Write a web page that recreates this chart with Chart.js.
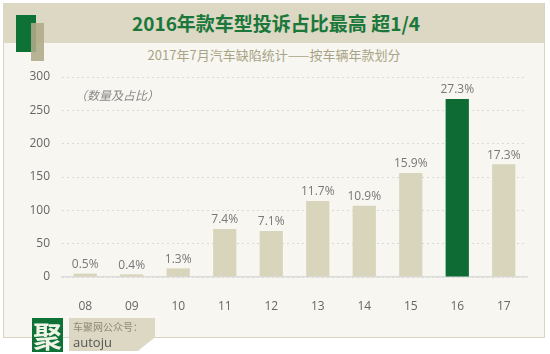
<!DOCTYPE html>
<html>
<head>
<meta charset="utf-8">
<script src="https://cdn.jsdelivr.net/npm/chart.js@4/dist/chart.umd.min.js"></script>
<style>
  body { margin: 0; background: #fff; font-family: "Open Sans", "Noto Sans CJK SC", sans-serif; }
  #wrap { position: relative; width: 550px; height: 354px; overflow: hidden; }
  #frame { position: absolute; left: 3px; top: 3px; width: 540px; height: 333px; background: #f7f6f1; border: 1.5px solid #d8d4bf; }
  #band { position: absolute; left: 3px; top: 3px; width: 541px; height: 40px; background: #dcd8c3; }
  #green { position: absolute; left: 16px; top: 15px; width: 20px; height: 37px; background: #0e7236; }
  #tan { position: absolute; left: 31px; top: 23px; width: 13px; height: 38px; background: rgba(176,170,136,0.88); }
  #title { position: absolute; left: 0; width: 552px; top: 9px; text-align: center; font: bold 19px "Noto Sans CJK SC", sans-serif; color: #1b773a; }
  #sub { position: absolute; left: 0; width: 548px; top: 45px; text-align: center; font: 13px "Noto Sans CJK SC", sans-serif; color: #a9a386; }
  #unit { position: absolute; left: 75px; top: 86px; font: italic 12px "Noto Sans CJK SC", sans-serif; color: #888; }
  #c { position: absolute; left: 0; top: 0; }
  #logo { position: absolute; left: 32px; top: 318px; width: 31px; height: 34px; background: #0e7236; color: #eef3e6; font: bold 29px "Noto Sans CJK SC", sans-serif; line-height: 34px; text-align: center; }
  #tag { position: absolute; left: 69px; top: 318px; width: 86px; height: 33px; background: #dcd8c3; clip-path: polygon(0 0, 100% 0, 100% 58%, 80% 100%, 0 100%); }
  #tag1 { position: absolute; left: 73px; top: 319px; font: 10px "Noto Sans CJK SC", sans-serif; color: #8d8a78; }
  #tag2 { position: absolute; left: 73px; top: 333px; font: 13px "Open Sans", sans-serif; color: #555; }
</style>
</head>
<body>
<div id="wrap">
  <div id="frame"></div>
  <div id="band"></div>
  <div id="green"></div>
  <div id="tan"></div>
  <div id="title">2016年款车型投诉占比最高 超1/4</div>
  <div id="sub">2017年7月汽车缺陷统计——按车辆年款划分</div>
  <canvas id="c" width="550" height="354"></canvas>
  <div id="unit">（数量及占比）</div>
  <div id="logo">聚</div>
  <div id="tag"></div>
  <div id="tag1">车聚网公众号：</div>
  <div id="tag2">autoju</div>
</div>
<script>
const years = ["08", "09", "10", "11", "12", "13", "14", "15", "16", "17"];
const counts = [5, 4, 13, 72, 69, 114, 107, 156, 267, 169];
const shares = ["0.5%", "0.4%", "1.3%", "7.4%", "7.1%", "11.7%", "10.9%", "15.9%", "27.3%", "17.3%"];
const yTicks = [0, 50, 100, 150, 200, 250, 300];
const highlight = "16";

const barColors = years.map(y => y === highlight ? "#0d6b33" : "#d9d5bd");

const shareLabels = {
  id: "shareLabels",
  afterDatasetsDraw(chart) {
    const ctx = chart.ctx;
    const meta = chart.getDatasetMeta(0);
    ctx.save();
    ctx.font = "12px 'Open Sans', sans-serif";
    ctx.fillStyle = "#777";
    ctx.textAlign = "center";
    ctx.textBaseline = "bottom";
    meta.data.forEach((bar, i) => {
      const p = bar.getProps(["x", "y"], true);
      ctx.fillText(shares[i], p.x, p.y - 3);
    });
    ctx.restore();
  }
};

new Chart(document.getElementById("c"), {
  type: "bar",
  data: {
    labels: years,
    datasets: [{ data: counts, backgroundColor: barColors, barPercentage: 0.5, categoryPercentage: 1 }]
  },
  options: {
    responsive: false,
    animation: false,
    devicePixelRatio: 1,
    layout: { padding: { top: 77, right: 23, bottom: 0, left: 0 } },
    plugins: { legend: { display: false }, tooltip: { enabled: false } },
    scales: {
      x: {
        grid: { display: false },
        border: { display: true, color: "#dcdcdc", width: 1.5 },
        ticks: { color: "#666", font: { size: 12, family: "'Open Sans', sans-serif" }, padding: 14 },
        afterFit: s => { s.height = 77; }
      },
      y: {
        min: 0,
        max: 300,
        afterBuildTicks: s => { s.ticks = yTicks.map(v => ({ value: v })); },
        grid: { color: "#d8d8d8", drawTicks: false },
        border: { display: false, dash: [2, 3] },
        ticks: { color: "#666", font: { size: 12, family: "'Open Sans', sans-serif" }, padding: 12 },
        afterFit: s => { s.width = 62; }
      }
    }
  },
  plugins: [shareLabels]
});
</script>
</body>
</html>
